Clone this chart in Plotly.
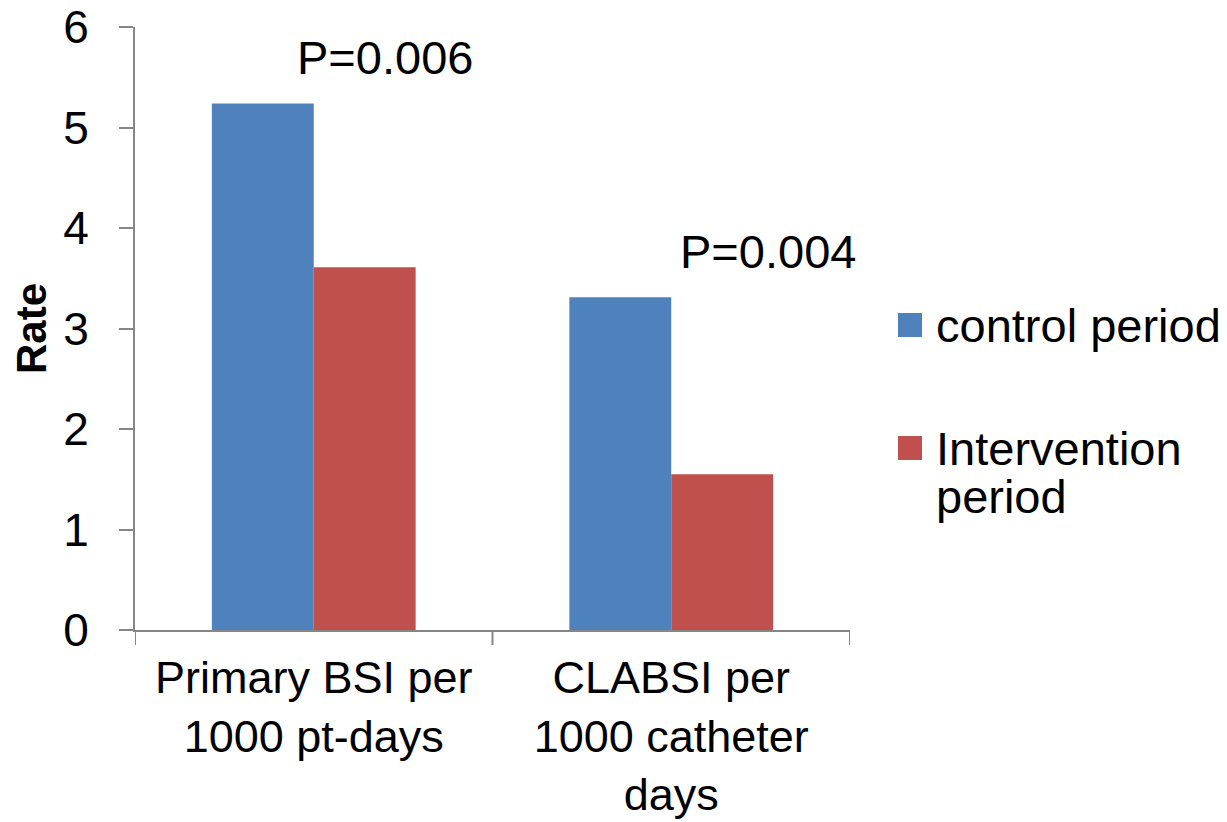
import plotly.graph_objects as go

categories = ["Primary BSI per<br>1000 pt-days", "CLABSI per<br>1000 catheter<br>days"]
control_vals = [5.24, 3.31]
intervention_vals = [3.61, 1.55]
series_names = ["control period", "Intervention period"]
legend_lines = [["control period"], ["Intervention", "period"]]
series_colors = ["#4F81BD", "#C0504D"]
p_labels = ["P=0.006", "P=0.004"]
p_x = [0.198, 1.27]
p_y = [5.70, 3.77]
y_ticks = [0, 1, 2, 3, 4, 5, 6]

FONT = "Liberation Sans, Arial, sans-serif"
AXIS_COLOR = "#868686"

# plot area in pixels (for converting legend positions to paper coords)
W, H = 1227, 822
L, R, T, B = 135, 377, 27, 192
PW, PH = W - L - R, H - T - B


def px_x(px):
    return (px - L) / PW


def px_y(py):
    return (H - B - py) / PH


fig = go.Figure()
for name, vals, col in zip(series_names, [control_vals, intervention_vals], series_colors):
    fig.add_trace(go.Bar(x=[0, 1], y=vals, name=name,
                         marker=dict(color=col, line=dict(width=0)),
                         showlegend=False))

for t, x, y in zip(p_labels, p_x, p_y):
    fig.add_annotation(x=x, y=y, text=t, showarrow=False, xref="x", yref="y",
                       font=dict(size=47, color="black", family=FONT))

# legend drawn manually (square swatches + text)
sw_centers = [325, 448]
for lines, col, cy in zip(legend_lines, series_colors, sw_centers):
    fig.add_shape(type="rect", xref="paper", yref="paper",
                  x0=px_x(898), x1=px_x(922), y0=px_y(cy + 12), y1=px_y(cy - 12),
                  fillcolor=col, line=dict(width=0))
    for i, ln in enumerate(lines):
        fig.add_annotation(x=px_x(934), y=px_y(cy + i * 48), xref="paper", yref="paper",
                           text=ln, showarrow=False, xanchor="left", yanchor="middle",
                           font=dict(size=47, color="black", family=FONT))

fig.update_layout(
    width=W, height=H,
    margin=dict(l=L, r=R, t=T, b=B),
    paper_bgcolor="white", plot_bgcolor="white",
    barmode="group", bargap=0.43, bargroupgap=0,
    font=dict(family=FONT, color="black"),
    showlegend=False,
    xaxis=dict(tickmode="array", tickvals=[0, 1], ticktext=categories,
               range=[-0.5, 1.5], showline=True, linecolor=AXIS_COLOR, linewidth=2,
               ticks="", tickfont=dict(size=45, family=FONT, color="black"),
               ticklabelstandoff=7, automargin=False,
               showgrid=False, zeroline=False),
    yaxis=dict(range=[0, 6], tickvals=y_ticks, showline=True, linecolor=AXIS_COLOR,
               linewidth=2, ticks="outside", ticklen=14, tickcolor=AXIS_COLOR, tickwidth=2,
               tickfont=dict(size=46, family=FONT, color="black"), ticklabelstandoff=21,
               showgrid=False, zeroline=False, automargin=False,
               title=dict(text="<b>Rate</b>", font=dict(size=42, family=FONT, color="black"),
                          standoff=4)),
)

# x-axis category boundary ticks (between categories and at ends)
for xb in [-0.5, 0.5, 1.5]:
    fig.add_shape(type="line", xref="x", yref="paper", x0=xb, x1=xb, y0=0, y1=-0.025,
                  line=dict(color=AXIS_COLOR, width=2))

fig.write_html("out.html")
